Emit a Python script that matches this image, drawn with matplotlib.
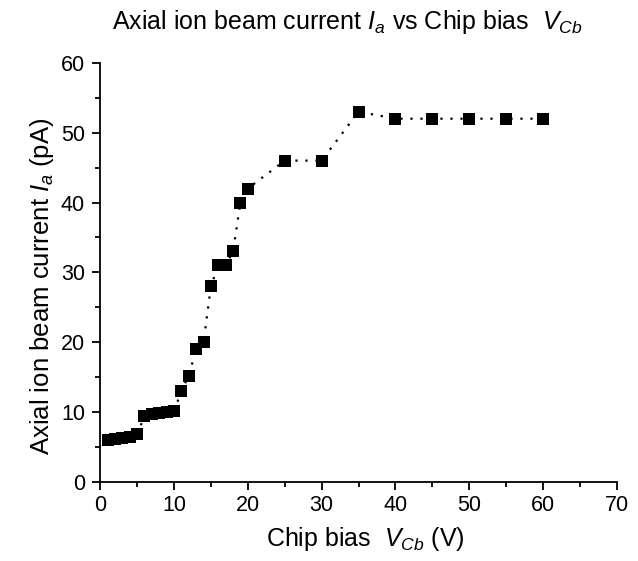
import numpy as np
import matplotlib
matplotlib.use('Agg')
import matplotlib.pyplot as plt
from matplotlib.ticker import MultipleLocator

# chip bias (V) and axial ion beam current (pA)
chip_bias = [1, 2, 3, 4, 5, 6, 7, 8, 9, 10, 11, 12, 13, 14, 15, 16, 17, 18,
             19, 20, 25, 30, 35, 40, 45, 50, 55, 60]
beam_current = [6.0, 6.2, 6.3, 6.5, 6.8, 9.4, 9.7, 9.9, 10.0, 10.1, 13.0,
                15.2, 19.0, 20.0, 28.0, 31.0, 31.0, 33.0, 40.0, 42.0, 46.0,
                46.0, 53.0, 52.0, 52.0, 52.0, 52.0, 52.0]

plt.rcParams['font.family'] = ['Liberation Sans', 'DejaVu Sans']
plt.rcParams['mathtext.fontset'] = 'custom'
plt.rcParams['mathtext.rm'] = 'Liberation Sans'
plt.rcParams['mathtext.it'] = 'Liberation Sans:italic'


def plotting():
    fig = plt.figure(figsize=(6.38, 5.61), dpi=100)
    ax = fig.add_axes([0.157, 0.141, 0.81, 0.747])

    ax.plot(chip_bias, beam_current, color='black', linestyle=(0, (1, 3.5)),
            linewidth=1.6, marker='s', markersize=8, markeredgewidth=0,
            clip_on=False)

    ax.set_xlim(0, 70)
    ax.set_ylim(0, 60)
    ax.xaxis.set_major_locator(MultipleLocator(10))
    ax.xaxis.set_minor_locator(MultipleLocator(5))
    ax.yaxis.set_major_locator(MultipleLocator(10))
    ax.yaxis.set_minor_locator(MultipleLocator(5))
    ax.tick_params(which='major', direction='out', length=6, width=1.3,
                   labelsize=15.5)
    ax.tick_params(which='minor', direction='out', length=3.5, width=1.3)
    ax.tick_params(axis='y', pad=5)
    for side in ['top', 'right']:
        ax.spines[side].set_visible(False)
    for side in ['left', 'bottom']:
        ax.spines[side].set_linewidth(1.3)

    # labels placed by hand, same spot as in the original figure
    ax.set_xlabel(r'Chip bias  $\mathit{V}_{\mathit{Cb}}$ (V)', fontsize=18,
                  va='center')
    ax.xaxis.set_label_coords(0.513, -0.136)
    ax.set_ylabel(r'Axial ion beam current $\mathit{I}_{\mathit{a}}$ (pA)',
                  fontsize=18.5, va='center')
    ax.yaxis.set_label_coords(-0.113, 0.467)
    fig.text(0.545, 0.96,
             r'Axial ion beam current $\mathit{I}_{\mathit{a}}$ vs Chip bias  $\mathit{V}_{\mathit{Cb}}$',
             fontsize=18, ha='center', va='center')

    fig.savefig('out.png', dpi=100)


if __name__ == '__main__':
    plotting()
